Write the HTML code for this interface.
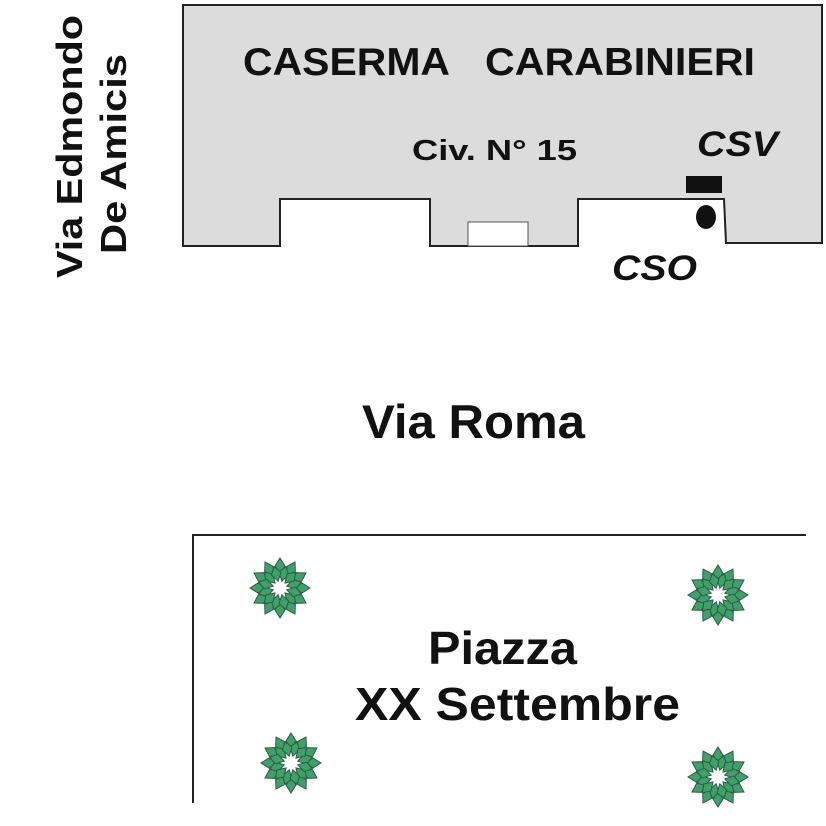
<!DOCTYPE html>
<html><head><style>
html,body{margin:0;padding:0;background:#fff;}
svg{display:block;}
text{font-family:"Liberation Sans",sans-serif;font-weight:bold;fill:#111;}
</style></head><body>
<svg width="826" height="826" viewBox="0 0 826 826" xmlns="http://www.w3.org/2000/svg">
<defs>
<g id="tree">
<g stroke="#2f5a45" stroke-width="1" fill="#3fa06a">
<path d="M0,-30 L5,-22 L0,-14 L-5,-22Z" transform="rotate(0)"/>
<path d="M0,-30 L5,-22 L0,-14 L-5,-22Z" transform="rotate(30)"/>
<path d="M0,-30 L5,-22 L0,-14 L-5,-22Z" transform="rotate(60)"/>
<path d="M0,-30 L5,-22 L0,-14 L-5,-22Z" transform="rotate(90)"/>
<path d="M0,-30 L5,-22 L0,-14 L-5,-22Z" transform="rotate(120)"/>
<path d="M0,-30 L5,-22 L0,-14 L-5,-22Z" transform="rotate(150)"/>
<path d="M0,-30 L5,-22 L0,-14 L-5,-22Z" transform="rotate(180)"/>
<path d="M0,-30 L5,-22 L0,-14 L-5,-22Z" transform="rotate(210)"/>
<path d="M0,-30 L5,-22 L0,-14 L-5,-22Z" transform="rotate(240)"/>
<path d="M0,-30 L5,-22 L0,-14 L-5,-22Z" transform="rotate(270)"/>
<path d="M0,-30 L5,-22 L0,-14 L-5,-22Z" transform="rotate(300)"/>
<path d="M0,-30 L5,-22 L0,-14 L-5,-22Z" transform="rotate(330)"/>
<path d="M0,-22 L5,-15 L0,-7 L-5,-15Z" transform="rotate(15)"/>
<path d="M0,-22 L5,-15 L0,-7 L-5,-15Z" transform="rotate(75)"/>
<path d="M0,-22 L5,-15 L0,-7 L-5,-15Z" transform="rotate(135)"/>
<path d="M0,-22 L5,-15 L0,-7 L-5,-15Z" transform="rotate(195)"/>
<path d="M0,-22 L5,-15 L0,-7 L-5,-15Z" transform="rotate(255)"/>
<path d="M0,-22 L5,-15 L0,-7 L-5,-15Z" transform="rotate(315)"/>
<path d="M0,-22 L5,-15 L0,-7 L-5,-15Z" transform="rotate(45)"/>
<path d="M0,-22 L5,-15 L0,-7 L-5,-15Z" transform="rotate(105)"/>
<path d="M0,-22 L5,-15 L0,-7 L-5,-15Z" transform="rotate(165)"/>
<path d="M0,-22 L5,-15 L0,-7 L-5,-15Z" transform="rotate(225)"/>
<path d="M0,-22 L5,-15 L0,-7 L-5,-15Z" transform="rotate(285)"/>
<path d="M0,-22 L5,-15 L0,-7 L-5,-15Z" transform="rotate(345)"/>
</g>
</g>
</defs>
<path d="M183,5 L822,5 L822,243 L726,243 L724,199 L578,199 L578,246 L430,246 L430,199 L280,199 L280,246 L183,246 Z" fill="#dcdcdc" stroke="#222" stroke-width="2"/>
<rect x="468" y="222" width="60" height="24" fill="#fff" stroke="#555" stroke-width="1"/>
<rect x="686" y="176" width="36" height="17" fill="#111"/>
<ellipse cx="706" cy="217" rx="10" ry="12" fill="#111"/>
<text x="243" y="75" font-size="39" textLength="207" lengthAdjust="spacingAndGlyphs">CASERMA</text>
<text x="485" y="75" font-size="39" textLength="270" lengthAdjust="spacingAndGlyphs">CARABINIERI</text>
<text x="412" y="160" font-size="29" textLength="165" lengthAdjust="spacingAndGlyphs">Civ.  N° 15</text>
<text x="697" y="156" font-size="35" font-style="italic" textLength="81" lengthAdjust="spacingAndGlyphs">CSV</text>
<text x="612" y="280" font-size="35" font-style="italic" textLength="85" lengthAdjust="spacingAndGlyphs">CSO</text>
<text transform="translate(82,278) rotate(-90)" font-size="36" textLength="263" lengthAdjust="spacingAndGlyphs">Via Edmondo</text>
<text transform="translate(126,254) rotate(-90)" font-size="36" textLength="200" lengthAdjust="spacingAndGlyphs">De Amicis</text>
<text x="362" y="438" font-size="47" textLength="223" lengthAdjust="spacingAndGlyphs">Via Roma</text>
<path d="M806,535 L193,535 L193,803" fill="none" stroke="#222" stroke-width="2"/>
<text x="428" y="664" font-size="46" textLength="149" lengthAdjust="spacingAndGlyphs">Piazza</text>
<text x="355" y="720" font-size="46" textLength="325" lengthAdjust="spacingAndGlyphs">XX Settembre</text>
<use href="#tree" x="280" y="588"/>
<use href="#tree" x="718" y="595"/>
<use href="#tree" x="291" y="763"/>
<use href="#tree" x="718" y="777"/>
</svg>
</body></html>
